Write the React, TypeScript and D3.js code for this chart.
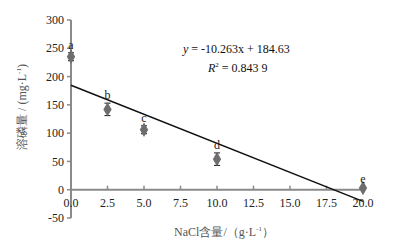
import React from "react";
import * as d3 from "d3";

const nacl = [0, 2.5, 5, 10, 20];
const phos = [235, 142, 106, 54, 3];
const errs = [7, 11, 7, 11, 2];
const letters = ["a", "b", "c", "d", "e"];
const xTicks = [0, 2.5, 5, 7.5, 10, 12.5, 15, 17.5, 20];
const yTicks = [-50, 0, 50, 100, 150, 200, 250, 300];
const slope = -10.263;
const intercept = 184.63;

export default function App() {
  const W = 398, H = 244;
  const x = d3.scaleLinear().domain([0, 20]).range([71, 363]);
  const y = d3.scaleLinear().domain([-50, 300]).range([218, 20]);
  const font = "'Liberation Serif', 'Times New Roman', serif";
  const axisColor = "#8a8a8a";
  const diamond = d3.symbol().type(d3.symbolDiamond).size(60)();
  return (
    <svg width={W} height={H} style={{ position: "absolute", left: 0, top: 0 }} fontFamily={font}>
      <rect width={W} height={H} fill="#fff" />
      {/* y axis */}
      <line x1={x(0)} x2={x(0)} y1={y(300)} y2={y(-50)} stroke={axisColor} strokeWidth={2} />
      {yTicks.map((t) => (
        <g key={t}>
          <line x1={x(0) - 4} x2={x(0)} y1={y(t)} y2={y(t)} stroke={axisColor} strokeWidth={1.5} />
          <text x={x(0) - 7} y={y(t)} dy="0.35em" textAnchor="end" fontSize={12} fill="#222">
            {t}
          </text>
        </g>
      ))}
      {/* x axis at y=0 */}
      <line x1={x(0)} x2={x(20)} y1={y(0)} y2={y(0)} stroke={axisColor} strokeWidth={2} />
      {xTicks.map((t) => (
        <g key={t}>
          <line x1={x(t)} x2={x(t)} y1={y(0)} y2={y(0) - 4} stroke={axisColor} strokeWidth={1.5} />
          <text x={x(t)} y={y(0) + 17} textAnchor="middle" fontSize={12} fill="#222">
            {t.toFixed(1)}
          </text>
        </g>
      ))}
      {/* regression line */}
      <line
        x1={x(0)}
        y1={y(intercept)}
        x2={x(20)}
        y2={y(slope * 20 + intercept)}
        stroke="#111"
        strokeWidth={1.5}
      />
      {/* data */}
      {nacl.map((v, i) => (
        <g key={i}>
          <line x1={x(v)} x2={x(v)} y1={y(phos[i] - errs[i])} y2={y(phos[i] + errs[i])} stroke="#111" strokeWidth={1} />
          <line x1={x(v) - 3} x2={x(v) + 3} y1={y(phos[i] - errs[i])} y2={y(phos[i] - errs[i])} stroke="#111" strokeWidth={1} />
          <line x1={x(v) - 3} x2={x(v) + 3} y1={y(phos[i] + errs[i])} y2={y(phos[i] + errs[i])} stroke="#111" strokeWidth={1} />
          <path d={diamond} transform={`translate(${x(v)},${y(phos[i])})`} fill="#6e6e6e" />
          <text x={x(v)} y={y(phos[i] + errs[i]) - 4} textAnchor="middle" fontSize={12} fill="#222">
            {letters[i]}
          </text>
        </g>
      ))}
      {/* equation */}
      <text x={183} y={53} fontSize={12} fill="#111">
        <tspan fontStyle="italic">y</tspan> = -10.263x + 184.63
      </text>
      <text x={208} y={72} fontSize={12} fill="#111">
        <tspan fontStyle="italic">R</tspan>
        <tspan fontSize={7} dy={-5}>2</tspan>
        <tspan dy={5}> = 0.843 9</tspan>
      </text>
      {/* axis titles */}
      <text
        transform={`translate(26,${(y(300) + y(-50)) / 2 - 12}) rotate(-90)`}
        textAnchor="middle"
        fontSize={12}
        fill="#555"
      >
        溶磷量 / (mg·L<tspan fontSize={7} dy={-5}>-1</tspan><tspan dy={5}>)</tspan>
      </text>
      <text x={224} y={236} textAnchor="middle" fontSize={12} fill="#555">
        NaCl含量/（g·L<tspan fontSize={7} dy={-5}>-1</tspan><tspan dy={5}>）</tspan>
      </text>
    </svg>
  );
}
